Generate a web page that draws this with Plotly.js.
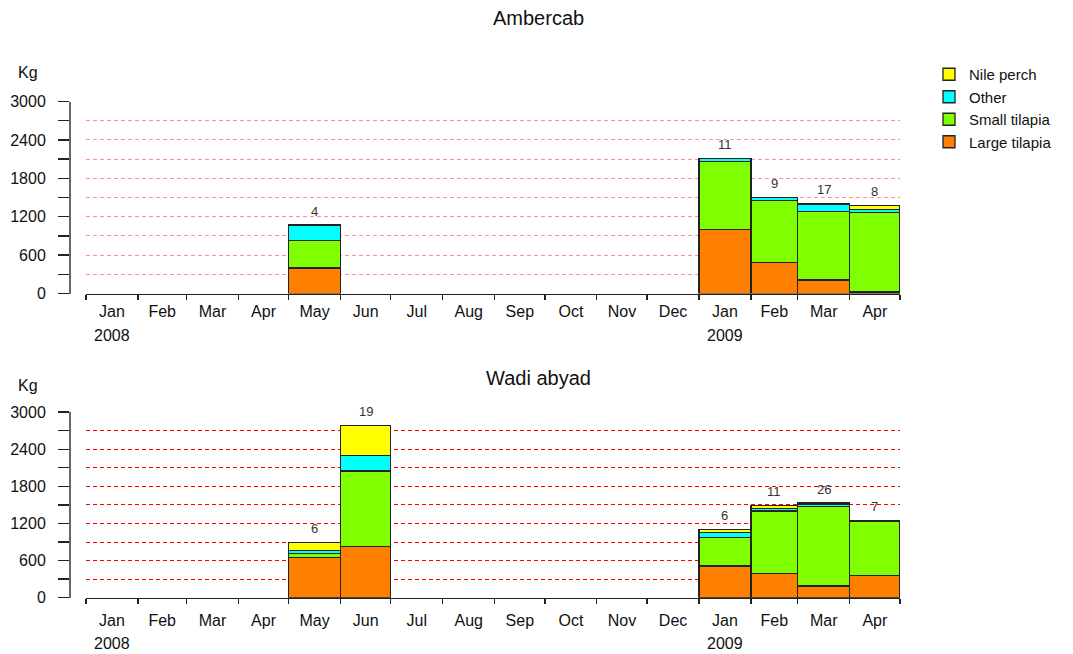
<!DOCTYPE html>
<html>
<head>
<meta charset="utf-8">
<script src="https://cdn.plot.ly/plotly-3.0.1.min.js"></script>
<style>html,body{margin:0;padding:0;background:#fff;}#chart{width:1073px;height:654px;}</style>
</head>
<body>
<div id="chart"></div>
<script>
// Months on the time axis
const months = ["2008-01","2008-02","2008-03","2008-04","2008-05","2008-06","2008-07","2008-08",
                "2008-09","2008-10","2008-11","2008-12","2009-01","2009-02","2009-03","2009-04"];
const monthLabels = ["Jan","Feb","Mar","Apr","May","Jun","Jul","Aug","Sep","Oct","Nov","Dec","Jan","Feb","Mar","Apr"];
const yearLabels = ["2008","2009"];
const yTickVals = [0,300,600,900,1200,1500,1800,2100,2400,2700,3000];
const yTickText = ["0","","600","","1200","","1800","","2400","","3000"];
const seriesNames = ["Large tilapia","Small tilapia","Other","Nile perch"];
const seriesColors = ["#FF8000","#80FF00","#00FFFF","#FFFF00"];

// Ambercab (kg); null = no sampling
const amberLarge = [null,null,null,null,400,null,null,null,null,null,null,null,1000,490,210,25];
const amberSmall = [null,null,null,null,430,null,null,null,null,null,null,null,1060,965,1070,1240];
const amberOther = [null,null,null,null,240,null,null,null,null,null,null,null,45,45,120,50];
const amberNile  = [null,null,null,null,0,null,null,null,null,null,null,null,0,0,0,65];
const amberCount = [null,null,null,null,4,null,null,null,null,null,null,null,11,9,17,8];

// Wadi abyad (kg)
const wadiLarge = [null,null,null,null,650,825,null,null,null,null,null,null,510,395,190,360];
const wadiSmall = [null,null,null,null,70,1225,null,null,null,null,null,null,465,1005,1280,880];
const wadiOther = [null,null,null,null,40,250,null,null,null,null,null,null,80,45,40,0];
const wadiNile  = [null,null,null,null,130,480,null,null,null,null,null,null,50,50,20,0];
const wadiCount = [null,null,null,null,6,19,null,null,null,null,null,null,6,11,26,7];

// Day offsets of each month from 2008-01-01 and month lengths
const DAY = 86400000;
const t0 = Date.UTC(2008,0,1);
const starts = [], lens = [], mids = [];
months.forEach(m => {
  const y = +m.slice(0,4), mo = +m.slice(5,7);
  const s = (Date.UTC(y,mo-1,1) - t0) / DAY;
  const e = (Date.UTC(y,mo,1) - t0) / DAY;
  starts.push(s); lens.push(e - s); mids.push(s + (e - s) / 2);
});
const boundaries = starts.concat([starts[starts.length-1] + lens[lens.length-1]]);
const xEnd = boundaries[boundaries.length-1];

function barTraces(series, xa, ya, showLegend) {
  return series.map((vals, i) => ({
    type: "bar", x: starts, y: vals, width: lens, offset: 0,
    xaxis: xa, yaxis: ya, name: seriesNames[i],
    showlegend: showLegend,
    marker: {color: seriesColors[i], line: {color: "#222", width: 1.3}},
    hoverinfo: "skip"
  }));
}

const data = []
  .concat(barTraces([amberLarge, amberSmall, amberOther, amberNile], "x", "y", true))
  .concat(barTraces([wadiLarge, wadiSmall, wadiOther, wadiNile], "x2", "y2", false));

const font = "Liberation Sans, Arial, sans-serif";
const txt = "#111";

function countAnnotations(series, counts, xa, ya) {
  const out = [];
  counts.forEach((c, i) => {
    if (c === null) return;
    const tot = series.reduce((a, s) => a + (s[i] || 0), 0);
    out.push({x: mids[i], y: tot, xref: xa, yref: ya, text: String(c), showarrow: false,
      xanchor: "center", yanchor: "middle", yshift: 14, font: {family: font, size: 13, color: "#333"}});
  });
  return out;
}

function xaxisDef(anchor, standoff) {
  return {
    domain: [86/1073, 900/1073], anchor: anchor, range: [0, xEnd],
    showgrid: false, zeroline: false, showline: true, linecolor: "#222", linewidth: 1.5,
    tickmode: "array", tickvals: mids, ticktext: monthLabels, ticks: "",
    ticklabelstandoff: standoff,
    tickfont: {family: font, size: 16, color: txt},
    minor: {tickmode: "array", tickvals: boundaries, ticks: "outside", ticklen: 5,
            tickwidth: 1.3, tickcolor: "#222", showgrid: false},
    fixedrange: true
  };
}

function yaxisDef(domain, gridColor) {
  return {
    domain: domain, anchor: "free", position: 70/1073, range: [0, 3001],
    showline: true, linecolor: "#666", linewidth: 2, zeroline: false,
    tickmode: "array", tickvals: yTickVals, ticktext: yTickText,
    ticks: "outside", ticklen: 11, tickwidth: 1.3, tickcolor: "#222",
    ticklabelstandoff: 9,
    tickfont: {family: font, size: 16, color: txt},
    showgrid: true, gridcolor: gridColor, griddash: "4px,3px", gridwidth: 1,
    fixedrange: true
  };
}

function label(text, x, y, xref, size) {
  return {text: text, x: x, y: y, xref: xref, yref: "paper", showarrow: false,
          xanchor: "center", yanchor: "middle", font: {family: font, size: size, color: txt}};
}

const annotations = [
  label("Ambercab", 538/1073, 1 - 18/654, "paper", 20),
  label("Wadi abyad", 538/1073, 1 - 378/654, "paper", 20),
  label("Kg", 28/1073, 1 - 73/654, "paper", 16),
  label("Kg", 28/1073, 1 - 385/654, "paper", 16),
  label(yearLabels[0], mids[0], 1 - 335/654, "x", 16),
  label(yearLabels[1], mids[12], 1 - 335/654, "x", 16),
  label(yearLabels[0], mids[0], 1 - 643/654, "x2", 16),
  label(yearLabels[1], mids[12], 1 - 643/654, "x2", 16)
].concat(countAnnotations([amberLarge, amberSmall, amberOther, amberNile], amberCount, "x", "y"))
 .concat(countAnnotations([wadiLarge, wadiSmall, wadiOther, wadiNile], wadiCount, "x2", "y2"));

const layout = {
  width: 1073, height: 654,
  margin: {l: 0, r: 0, t: 0, b: 0},
  paper_bgcolor: "#fff", plot_bgcolor: "rgba(0,0,0,0)",
  barmode: "stack", bargap: 0,
  showlegend: true,
  legend: {x: 929/1073, y: 1 - 58/654, xanchor: "left", yanchor: "top",
           traceorder: "reversed", bgcolor: "rgba(0,0,0,0)",
           font: {family: font, size: 15, color: txt}, itemwidth: 30},
  xaxis: xaxisDef("y", 3),
  yaxis: yaxisDef([1 - 293.5/654, 1 - 101.5/654], "#FF9090"),
  xaxis2: xaxisDef("y2", 8),
  yaxis2: yaxisDef([1 - 597.7/654, 1 - 412/654], "#FF0000"),
  annotations: annotations
};

Plotly.newPlot("chart", data, layout, {staticPlot: true, displayModeBar: false});
</script>
</body>
</html>
